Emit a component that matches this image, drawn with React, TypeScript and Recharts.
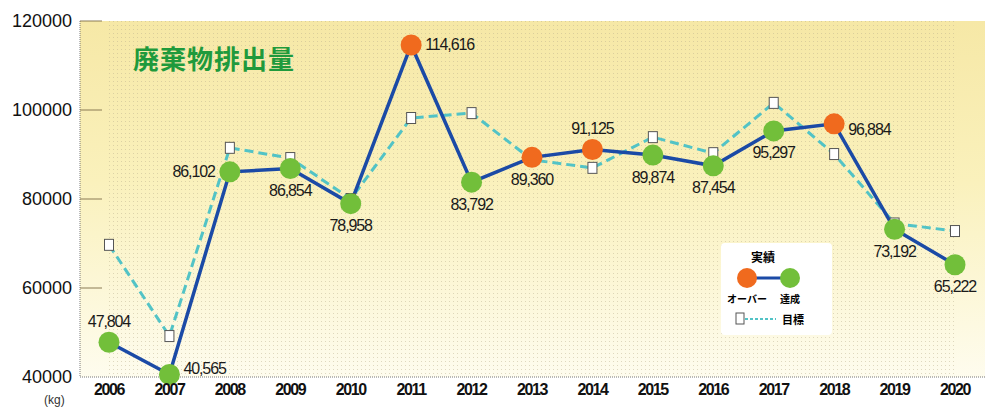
import React from "react";
import {
  LineChart,
  Line,
  XAxis,
  YAxis,
  CartesianGrid,
  ReferenceArea,
  LabelList,
} from "recharts";

const years = ["2006", "2007", "2008", "2009", "2010", "2011", "2012", "2013", "2014", "2015", "2016", "2017", "2018", "2019", "2020"];
const actual = [47804, 40565, 86102, 86854, 78958, 114616, 83792, 89360, 91125, 89874, 87454, 95297, 96884, 73192, 65222];
const target = [69700, 49200, 91500, 89200, 80000, 98200, 99300, 88800, 87000, 93900, 90300, 101600, 90100, 74500, 72800];
const yTicks = [40000, 60000, 80000, 100000, 120000];

// where each value label sits relative to its point (style only)
const labelSide = ["top", "right", "left", "bottom", "bottom", "right", "bottom", "bottom", "top", "bottom", "bottom", "bottom", "right", "bottom", "bottom"];

const data = years.map((year, i) => ({ year, actual: actual[i], target: target[i] }));

const SANS = "'Liberation Sans', Arial, sans-serif";
const ORANGE = "#f06a1e";
const GREEN = "#72bf3a";
const BLUE = "#1b4aa6";
const CYAN = "#52c3c6";

const YTick = (props: any) => {
  const { x, y, payload } = props;
  return (
    <g>
      <text x={x} y={y} textAnchor="end" dominantBaseline="central" fontSize={18} fontFamily={SANS} fill="#111">
        {payload.value}
      </text>
      {payload.value !== 40000 && <line x1={x + 8} x2={x + 30} y1={y} y2={y} stroke="#8a7a55" strokeWidth={1} />}
    </g>
  );
};

const ActualDot = (props: any) => {
  const { cx, cy, index } = props;
  const over = actual[index] > target[index];
  return <circle key={index} cx={cx} cy={cy} r={10.5} fill={over ? ORANGE : GREEN} stroke="none" />;
};

const TargetDot = (props: any) => {
  const { cx, cy, index } = props;
  return <rect key={index} x={cx - 4.5} y={cy - 5.5} width={9} height={11} fill="#fff" stroke="#555" strokeWidth={1} />;
};

const ValueLabel = (props: any) => {
  const { x, y, index, value } = props;
  const side = labelSide[index];
  let tx = x;
  let ty = y;
  let anchor: "start" | "middle" | "end" = "middle";
  if (side === "top") ty = y - 21;
  if (side === "bottom") ty = y + 22;
  if (side === "left") {
    tx = x - 15;
    anchor = "end";
  }
  if (side === "right") {
    tx = x + 14;
    anchor = "start";
    ty = index === 1 ? y - 6 : index === 12 ? y + 6 : y;
  }
  return (
    <text x={tx} y={ty} textAnchor={anchor} dominantBaseline="central" fontSize={16} fontWeight={500} letterSpacing={-1.1} fontFamily={SANS} fill="#1a1a1a">
      {Number(value).toLocaleString("en-US")}
    </text>
  );
};

function LegendBox() {
  return (
    <div
      style={{
        position: "absolute",
        left: 721,
        top: 243,
        width: 111,
        height: 92,
        background: "#fff",
        borderRadius: 4,
        fontFamily: "'Noto Sans CJK JP', sans-serif",
        fontWeight: 700,
        color: "#111",
      }}
    >
      <svg width={111} height={92}>
        <text x={42} y={13} textAnchor="middle" dominantBaseline="central" fontSize={12}>実績</text>
        <line x1={26} x2={69} y1={35} y2={35} stroke={BLUE} strokeWidth={3} />
        <circle cx={26} cy={35} r={10} fill={ORANGE} />
        <circle cx={69} cy={35} r={10} fill={GREEN} />
        <text x={26} y={55} textAnchor="middle" dominantBaseline="central" fontSize={10}>オーバー</text>
        <text x={69} y={55} textAnchor="middle" dominantBaseline="central" fontSize={10}>達成</text>
        <line x1={24} x2={55} y1={76} y2={76} stroke={CYAN} strokeWidth={2} strokeDasharray="3 2" />
        <rect x={15} y={70} width={8} height={11} fill="#fff" stroke="#555" />
        <text x={72} y={76} textAnchor="middle" dominantBaseline="central" fontSize={11}>目標</text>
      </svg>
    </div>
  );
}

export default function App() {
  return (
    <div style={{ position: "absolute", left: 0, top: 0, width: 986, height: 417, background: "#fff" }}>
      <LineChart width={986} height={417} data={data} margin={{ top: 21, right: 1, left: 0, bottom: 0 }}>
        <defs>
          <linearGradient id="bgGrad" x1="0" y1="0" x2="0" y2="1">
            <stop offset="0%" stopColor="#f6e8a6" />
            <stop offset="45%" stopColor="#faf1bc" />
            <stop offset="100%" stopColor="#fefcee" />
          </linearGradient>
          <pattern id="dots" width={4} height={4} patternUnits="userSpaceOnUse">
            <rect x={1} y={1} width={1} height={1} fill="#b9ad8c" opacity={0.45} />
          </pattern>
        </defs>
        <CartesianGrid horizontal={false} vertical={false} fill="url(#bgGrad)" />
        <ReferenceArea y1={40000} y2={120000} fill="url(#dots)" fillOpacity={1} stroke="none" ifOverflow="visible" />
        <XAxis
          dataKey="year"
          padding={{ left: 29, right: 30 }}
          tickLine={false}
          tickSize={0}
          tickMargin={7}
          axisLine={{ stroke: "#777", strokeDasharray: "1 1" }}
          tick={{ fontSize: 16, fontWeight: 700, letterSpacing: -1.4, fontFamily: SANS, fill: "#111" }}
          height={40}
          interval={0}
        />
        <YAxis
          domain={[40000, 120000]}
          ticks={yTicks}
          width={80}
          tickLine={false}
          tickSize={0}
          tickMargin={8}
          axisLine={{ stroke: "#777", strokeDasharray: "1 1" }}
          tick={<YTick />}
          interval={0}
        />
        <Line
          dataKey="target"
          stroke={CYAN}
          strokeWidth={3}
          strokeDasharray="9 5"
          dot={<TargetDot />}
          activeDot={false}
          isAnimationActive={false}
        />
        <Line
          dataKey="actual"
          stroke={BLUE}
          strokeWidth={3.5}
          dot={<ActualDot />}
          activeDot={false}
          isAnimationActive={false}
        >
          <LabelList dataKey="actual" content={<ValueLabel />} />
        </Line>
      </LineChart>
      <div
        style={{
          position: "absolute",
          left: 133,
          top: 43,
          fontSize: 26,
          fontWeight: 700,
          color: "#1f9a3c",
          fontFamily: "'Noto Sans CJK JP', sans-serif",
          lineHeight: "30px",
          letterSpacing: 1,
        }}
      >
        廃棄物排出量
      </div>
      <div
        style={{
          position: "absolute",
          left: 44,
          top: 393,
          fontSize: 12,
          color: "#333",
          fontFamily: SANS,
        }}
      >
        (kg)
      </div>
      <LegendBox />
    </div>
  );
}
